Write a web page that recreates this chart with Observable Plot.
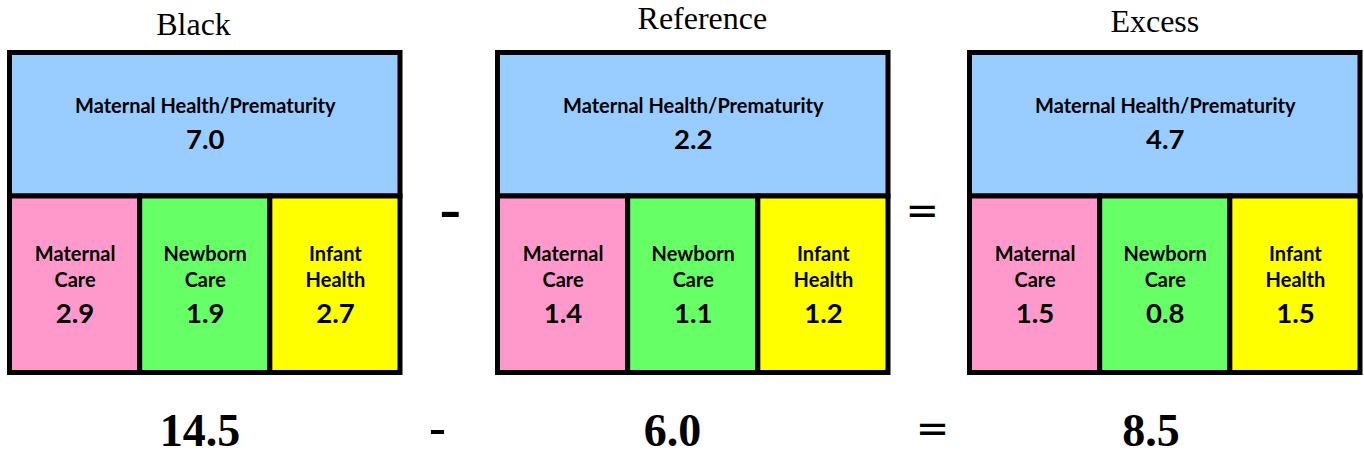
<!DOCTYPE html>
<html>
<head>
<meta charset="utf-8">
<script src="https://cdn.jsdelivr.net/npm/d3@7"></script>
<script src="https://cdn.jsdelivr.net/npm/@observablehq/plot@0.6"></script>
<style>
  html, body { margin: 0; padding: 0; background: #fff; }
  #chart svg { display: block; }
</style>
</head>
<body>
<div id="chart"></div>
<script>
// ---- data ----
const panels = ["Black", "Reference", "Excess"];
const categories = ["Maternal Health/Prematurity", "Maternal\nCare", "Newborn\nCare", "Infant\nHealth"];
const blackValues = [7.0, 2.9, 1.9, 2.7];
const referenceValues = [2.2, 1.4, 1.1, 1.2];
const excessValues = [4.7, 1.5, 0.8, 1.5];
const totals = [14.5, 6.0, 8.5];
const operators = ["-", "="];

// ---- styling / layout ----
const colors = ["#99CCFF", "#FF99CC", "#66FF66", "#FFFF00"];
const titleShiftX = [-0.09, 0.07, -0.08];
const titleShiftY = [-0.9, -1.25, -1.1];
const totalShift = [-0.04, -0.16, -0.11];
const opShiftTop = [0.01, -0.085];
const opShiftBottom = [-0.12, 0.04];

const seriesValues = [blackValues, referenceValues, excessValues];
const cells = panels.flatMap((panel, p) => categories.map((cat, i) => ({
  panel, cat, value: seriesValues[p][i], fill: colors[i],
  x1: i === 0 ? 4 * p : 4 * p + i - 1,
  x2: i === 0 ? 4 * p + 3 : 4 * p + i,
  y1: i === 0 ? 0 : 1,
  y2: i === 0 ? 1 : 2
})));
const topCells = cells.filter(d => d.y1 === 0);
const botCells = cells.filter(d => d.y1 === 1);
const titles = panels.map((t, p) => ({t, x: 4 * p + 1.5 + titleShiftX[p], y: titleShiftY[p]}));
const totalRows = totals.map((v, p) => ({v, x: 4 * p + 1.5 + totalShift[p]}));
const opRows = operators.map((o, k) => ({o, x: 4 * k + 3.5 + opShiftTop[k]}));
const opRowsBottom = operators.map((o, k) => ({o, x: 4 * k + 3.5 + opShiftBottom[k]}));

const fmt = d3.format(".1f");
const sans = "Lato, 'Open Sans', sans-serif";
const serif = "'Liberation Serif', 'Times New Roman', serif";
const opFont = "'DejaVu Sans', sans-serif";

const chart = Plot.plot({
  width: 1364,
  height: 456,
  margin: 0,
  x: {type: "linear", domain: [0, 3, 4, 7, 8, 11], range: [9.5, 400, 497.5, 888, 969.5, 1360], axis: null},
  y: {type: "linear", domain: [-1, 0, 1, 2, 3], range: [33, 52.5, 196, 372.5, 449], axis: null},
  marks: [
    Plot.rect(cells, {x1: "x1", x2: "x2", y1: "y1", y2: "y2", fill: "fill", stroke: "black", strokeWidth: 5}),
    Plot.text(topCells, {x: d => (d.x1 + d.x2) / 2, y: d => (d.y1 + d.y2) / 2, text: "cat", lineAnchor: "bottom", dy: -12, fontFamily: sans, fontWeight: "bold", fontSize: 20, fill: "black"}),
    Plot.text(topCells, {x: d => (d.x1 + d.x2) / 2, y: d => (d.y1 + d.y2) / 2, text: d => fmt(d.value), lineAnchor: "bottom", dy: 24, fontFamily: sans, fontWeight: "bold", fontSize: 27.5, fill: "black"}),
    Plot.text(botCells, {x: d => (d.x1 + d.x2) / 2, y: d => (d.y1 + d.y2) / 2, text: "cat", lineAnchor: "bottom", lineHeight: 1.3, dy: 2, fontFamily: sans, fontWeight: "bold", fontSize: 20, fill: "black"}),
    Plot.text(botCells, {x: d => (d.x1 + d.x2) / 2, y: d => (d.y1 + d.y2) / 2, text: d => fmt(d.value), lineAnchor: "bottom", dy: 38, fontFamily: sans, fontWeight: "bold", fontSize: 27.5, fill: "black"}),
    Plot.text(titles, {x: "x", y: "y", text: "t", lineAnchor: "bottom", fontFamily: serif, fontSize: 32, fill: "black"}),
    Plot.text(totalRows, {x: "x", y: () => 3, text: d => fmt(d.v), lineAnchor: "bottom", dy: -4, fontFamily: serif, fontWeight: "bold", fontSize: 46, fill: "black"}),
    Plot.text(opRows, {x: "x", y: () => 1, text: "o", lineAnchor: "middle", dy: 15, fontFamily: opFont, fontSize: d => d.o === "-" ? 64 : 40, fill: "black"}),
    Plot.text(opRowsBottom, {x: "x", y: () => 3, text: "o", lineAnchor: "middle", dy: d => 0, fontFamily: opFont, fontWeight: d => d.o === "-" ? "bold" : "normal", fontSize: d => d.o === "-" ? 50 : 40, fill: "black", dy: -20})
  ]
});
document.getElementById("chart").appendChild(chart);
</script>
</body>
</html>
